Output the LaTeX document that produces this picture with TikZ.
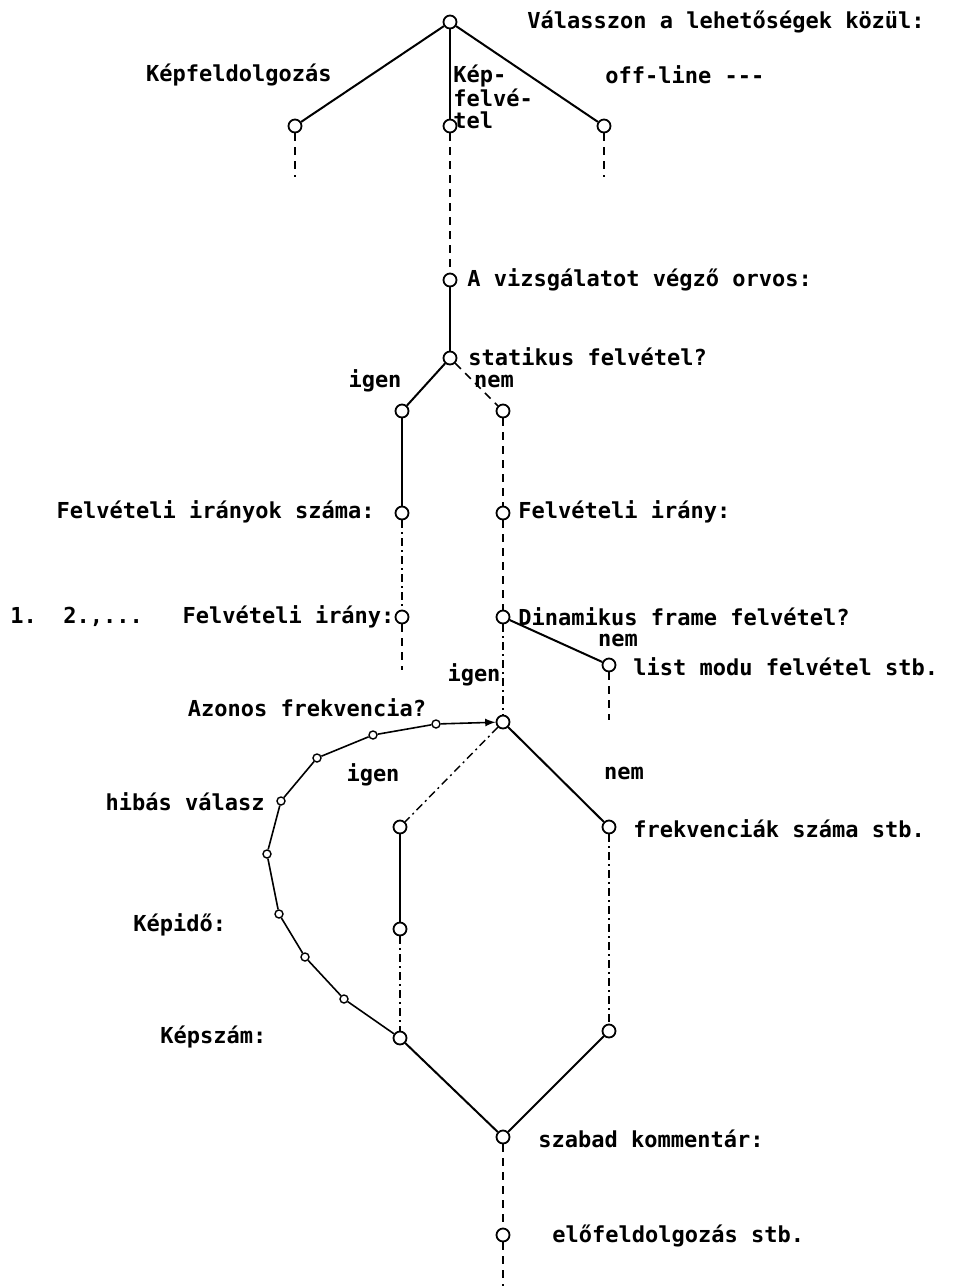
\documentclass[tikz,border=0pt]{standalone}
\usepackage{fontspec}
\setmonofont{DejaVu Sans Mono}
\usetikzlibrary{arrows,positioning}

\tikzset{
  stop/.style={circle,draw,line width=0.9pt,inner sep=0pt,minimum size=6.5pt,on grid},
  tick/.style={circle,draw,line width=0.7pt,inner sep=0pt,minimum size=4pt},
  lbl/.style={inner sep=0pt,font=\ttfamily\bfseries\fontsize{11}{11}\selectfont},
  link/.style={line width=1pt},
  dlink/.style={line width=0.8pt,dash pattern=on 4pt off 3pt},
  ddlink/.style={line width=0.7pt,dash pattern=on 4pt off 2pt on 1pt off 2pt}
}

\begin{document}
\begin{tikzpicture}
   \useasboundingbox (0,0) rectangle (476.5pt,-643pt);

   % menu
   \node[stop] (root) at (225pt,-11pt) {};
   \node[stop] (a) [below left=52pt and 77.5pt of root] {};
   \node[stop] (b) [below=52pt of root] {};
   \node[stop] (c) [below right=52pt and 77pt of root] {};
   \node[stop] (d) [below=77pt of b] {};
   \node[stop] (e) [below=39pt of d] {};
   \node[stop] (f) [below left=26.5pt and 24pt of e] {};
   \node[stop] (g) [below right=26.5pt and 26.5pt of e] {};
   \node[stop] (h) [below=51pt of f] {};
   \node[stop] (i) [below=51pt of g] {};
   \node[stop] (j) [below=52pt of h] {};
   \node[stop] (k) [below=52pt of i] {};
   \node[stop] (l) [below right=24pt and 53pt of k] {};
   \node[stop] (m) [below=52.5pt of k] {};
   \node[stop] (o) [below left=52.5pt and 51.5pt of m] {};
   \node[stop] (r) [below right=52.5pt and 53pt of m] {};
   \node[stop] (p) [below=51pt of o] {};
   \node[stop] (q) [below=54.5pt of p] {};
   \node[stop] (s) [below=102pt of r] {};
   \node[stop] (t) [below=207.5pt of m] {};
   \node[stop] (u) [below=49pt of t] {};

   % hibas valasz loop
   \node[tick] (h1) at (218pt,-362pt) {};
   \node[tick] (h2) at (186.5pt,-367.5pt) {};
   \node[tick] (h3) at (158.5pt,-379pt) {};
   \node[tick] (h4) at (140.5pt,-400.5pt) {};
   \node[tick] (h5) at (133.5pt,-427pt) {};
   \node[tick] (h6) at (139.5pt,-457pt) {};
   \node[tick] (h7) at (152.5pt,-478.5pt) {};
   \node[tick] (h8) at (172pt,-499.5pt) {};

   \coordinate[below=22pt of a] (a-end);
   \coordinate[below=22pt of c] (c-end);
   \coordinate[below=23pt of j] (j-end);
   \coordinate[below=24pt of l] (l-end);
   \coordinate[below=22pt of u] (u-end);

   % texts
   \node[lbl,anchor=west] at (263.5pt,-11pt) {Válasszon a lehetőségek közül:};
   \node[lbl,anchor=east] at (166pt,-37.5pt) {Képfeldolgozás};
   \node[lbl,anchor=west,align=left] at (226.5pt,-48.5pt) {Kép-\\felvé-\\tel};
   \node[lbl,anchor=west] at (302.5pt,-37.5pt) {off-line ---};
   \node[lbl,anchor=west] at (233.5pt,-140pt) {A vizsgálatot végző orvos:};
   \node[lbl,anchor=west] at (234pt,-178.5pt) {statikus felvétel?};
   \node[lbl] at (187.5pt,-190.5pt) {igen};
   \node[lbl] at (247pt,-190.5pt) {nem};
   \node[lbl,anchor=east] at (187.5pt,-256pt) {Felvételi irányok száma:};
   \node[lbl,anchor=west] at (259pt,-256pt) {Felvételi irány:};
   \node[lbl,anchor=west] at (5pt,-308.5pt) {1.~~2.,...~~~Felvételi irány:};
   \node[lbl,anchor=west] at (259pt,-308.5pt) {Dinamikus frame felvétel?};
   \node[lbl] at (309pt,-320pt) {nem};
   \node[lbl,anchor=west] at (316.5pt,-333.5pt) {list modu felvétel stb.};
   \node[lbl] at (237pt,-337.5pt) {igen};
   \node[lbl] at (153.5pt,-354pt) {Azonos frekvencia?};
   \node[lbl] at (186.5pt,-387.5pt) {igen};
   \node[lbl] at (312pt,-386.5pt) {nem};
   \node[lbl,anchor=east] at (132.5pt,-401pt) {hibás válasz};
   \node[lbl,anchor=west] at (316.5pt,-414.5pt) {frekvenciák száma stb.};
   \node[lbl,anchor=west] at (66.5pt,-462.5pt) {Képidő:};
   \node[lbl,anchor=west] at (80pt,-518.5pt) {Képszám:};
   \node[lbl,anchor=west] at (269pt,-569.5pt) {szabad kommentár:};
   \node[lbl,anchor=west] at (276pt,-618pt) {előfeldolgozás stb.};

   % connectors
   \draw[link] (root) -- (a);
   \draw[link] (root) -- (b);
   \draw[link] (root) -- (c);
   \draw[dlink] (a) -- (a-end);
   \draw[dlink] (c) -- (c-end);
   \draw[dlink] (b) -- (d);
   \draw[link] (d) -- (e);
   \draw[link] (e) -- (f);
   \draw[dlink] (e) -- (g);
   \draw[link] (f) -- (h);
   \draw[dlink] (g) -- (i);
   \draw[ddlink] (h) -- (j);
   \draw[dlink] (j) -- (j-end);
   \draw[dlink] (i) -- (k);
   \draw[link] (k) -- (l);
   \draw[dlink] (l) -- (l-end);
   \draw[ddlink] (k) -- (m);
   \draw[ddlink] (m) -- (o);
   \draw[link] (m) -- (r);
   \draw[link] (o) -- (p);
   \draw[ddlink] (p) -- (q);
   \draw[ddlink] (r) -- (s);
   \draw[link] (q) -- (t);
   \draw[link] (s) -- (t);
   \draw[dlink] (t) -- (u);
   \draw[dlink] (u) -- (u-end);
   \draw[link,line width=0.8pt] (q) -- (h8) -- (h7) -- (h6) -- (h5) -- (h4) -- (h3) -- (h2) -- (h1);
   \draw[link,line width=0.8pt,-latex] (h1) -- (m);
\end{tikzpicture}
\end{document}
